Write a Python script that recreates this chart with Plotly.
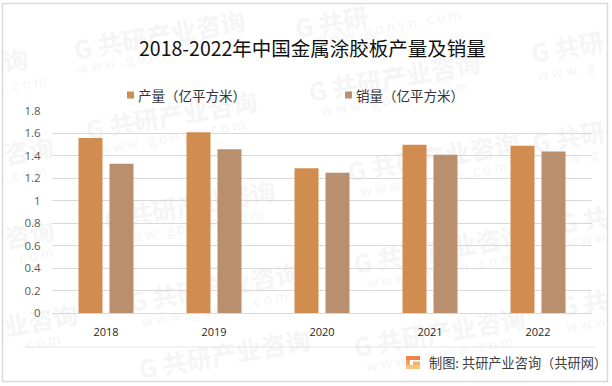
import plotly.graph_objects as go

W, H = 612, 386
ML, MR, MT, MB = 52, 20, 111, 73

years = ["2018", "2019", "2020", "2021", "2022"]
output = [1.56, 1.61, 1.29, 1.50, 1.49]
sales = [1.33, 1.46, 1.25, 1.41, 1.44]
y_ticks = [0, 0.2, 0.4, 0.6, 0.8, 1, 1.2, 1.4, 1.6, 1.8]
y_labels = ["0", "0.2", "0.4", "0.6", "0.8", "1", "1.2", "1.4", "1.6", "1.8"]
output_name = "产量（亿平方米）"
sales_name = "销量（亿平方米）"
title_text = "2018-2022年中国金属涂胶板产量及销量"
source_text = "制图: 共研产业咨询（共研网）"
WM = "G 共研产业咨询"
WWW = "w w w . g o n y n . c o m"
# watermark pieces: centre x, centre y, text, bold
wm_marks = [(160, 38, WM, True), (172, 118, WM, True), (395, 80, WM, True), (434, 160, WM, True),
            (440, 335, WM, True), (440, 252, WM, True), (190, 208, WM, True), (215, 290, WM, True),
            (225, 357, WM, True),
            (150, 57, WWW, False), (172, 138, WWW, False), (395, 100, WWW, False), (434, 180, WWW, False),
            (440, 355, WWW, False), (440, 272, WWW, False), (190, 228, WWW, False), (215, 310, WWW, False),
            (16, 63, "询", True), (29, 153, "咨询", True), (30, 237, "咨询", True), (41, 323, "业咨询", True),
            (26, 85, ". c o m", False), (26, 175, ". c o m", False), (33, 257, ". c o m", False), (40, 343, ". c o m", False),
            (568, 50, "G 共研", True), (569, 140, "G 共研", True), (584, 223, "G 共", True), (584, 306, "G 共", True),
            (566, 72, "w w w . g", False), (570, 160, "w w w . g", False), (586, 240, "w w w", False), (586, 325, "w w w", False),
            (332, 25, "G 共研", True), (388, 28, WWW, False)]

COL1, COL2 = "#D18C4F", "#BA8F6D"
CJK = "Noto Sans CJK SC"
WM_COL = "#F5F5F5"
def px(x): return (x - ML) / (W - ML - MR)
def py(y): return (H - MB - y) / (H - MT - MB)

fig = go.Figure()
fig.add_bar(x=years, y=output, name=output_name, marker=dict(color=COL1, line_width=0), showlegend=False)
fig.add_bar(x=years, y=sales, name=sales_name, marker=dict(color=COL2, line_width=0), showlegend=False)

ann, shp = [], []
def text(x, y, s, size, color, **kw):
    ann.append(dict(xref="paper", yref="paper", x=px(x), y=py(y), text=s, showarrow=False,
                    font=dict(size=size, color=color, family=kw.pop("family", CJK)),
                    xanchor=kw.pop("xanchor", "left"), yanchor="middle", **kw))

for cx, cy, s, bold in wm_marks:
    shp.append(dict(type="rect", layer="below", xref="paper", yref="paper",
                    x0=px(cx - 1), x1=px(cx + 1), y0=py(cy + 1), y1=py(cy - 1),
                    line_width=0, fillcolor="rgba(0,0,0,0)",
                    label=dict(text=f"<b>{s}</b>" if bold else s, textangle=-10, textposition="middle center",
                               font=dict(size=25 if bold else 14, color=WM_COL, family=CJK))))

text(312.5, 48, title_text, 19.5, "#111111", xanchor="center")
text(136, 95, output_name, 13.5, "#333333")
text(354, 95, sales_name, 13.5, "#333333")
text(427, 362, source_text, 13.2, "#404040")

def rect(x0, y0, x1, y1, **kw):
    shp.append(dict(type="rect", xref="paper", yref="paper", x0=px(x0), x1=px(x1), y0=py(y0), y1=py(y1), **kw))
rect(127, 91.5, 134, 98.5, fillcolor=COL1, line_width=0)
rect(345, 91.5, 352, 98.5, fillcolor=COL2, line_width=0)
rect(2.5, 3.5, 607.5, 381.5, line=dict(color="#D9D9D9", width=1.5), fillcolor="rgba(0,0,0,0)")
shp.append(dict(type="line", xref="paper", yref="paper", x0=px(24), x1=px(596), y0=py(347), y1=py(347),
                line=dict(color="#E6E6E6", width=1)))
# logo: a G with a vertical orange gradient
rect(406, 356, 420, 360, fillcolor="#F0824A", line_width=0)
rect(406, 360, 410, 366, fillcolor="#F4A060", line_width=0)
rect(413, 361.5, 420, 365, fillcolor="#F6AE68", line_width=0)
rect(406, 365, 420, 369, fillcolor="#F9C27E", line_width=0)

fig.update_layout(
    width=W, height=H, margin=dict(l=ML, r=MR, t=MT, b=MB, autoexpand=False),
    paper_bgcolor="white", plot_bgcolor="rgba(0,0,0,0)", barmode="group",
    bargap=0.426, bargroupgap=0.226, annotations=ann, shapes=shp,
    font=dict(family="Open Sans"),
)
fig.update_xaxes(type="category", showgrid=False, showline=True, linecolor="#D9D9D9", linewidth=1,
                 ticks="outside", ticklen=9, tickcolor="rgba(0,0,0,0)",
                 tickfont=dict(size=11, color="#262626", family="Open Sans"))
fig.update_yaxes(range=[0, 1.8], tickvals=y_ticks, ticktext=y_labels, showline=False, zeroline=False,
                 gridcolor="#D9D9D9", gridwidth=1, ticks="outside", ticklen=8, tickcolor="rgba(0,0,0,0)",
                 tickfont=dict(size=11.5, color="#595959", family="Open Sans"))
fig.write_html("out.html", config=dict(displayModeBar=False),
               post_script="document.body.style.margin='0';document.body.style.overflow='hidden';")
